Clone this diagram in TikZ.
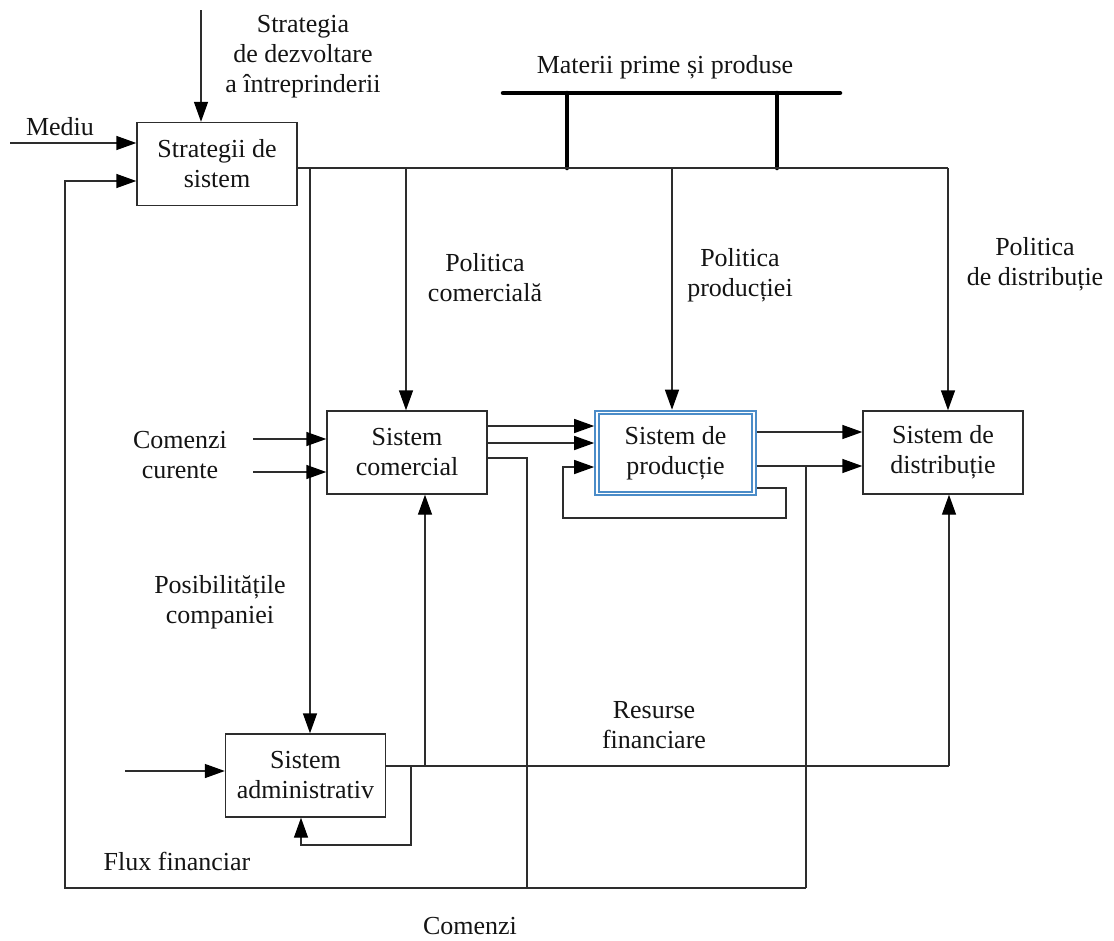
\documentclass[tikz,border=0pt]{standalone}
\usepackage{fontspec}
\setmainfont{Liberation Serif}
\usetikzlibrary{arrows.meta}
\definecolor{linec}{RGB}{45,45,45}
\definecolor{textc}{RGB}{20,20,20}
\definecolor{prodblue}{RGB}{75,140,200}
\begin{document}
\begin{tikzpicture}[x=1pt,y=-1pt,
  every node/.style={font=\fontsize{26}{30}\selectfont, text=textc},
  block/.style={draw=linec, line width=1.4pt, fill=white, align=center,
    minimum width=160pt, minimum height=83pt, inner sep=0pt},
  lbl/.style={align=center, inner sep=0pt},
  wire/.style={draw=linec, line width=1.4pt},
  arr/.style={wire, -{Triangle[length=20pt,width=14pt,fill=black,color=black]}},
  bus/.style={draw=black, line width=4.5pt, line cap=round}]
\useasboundingbox (0,0) rectangle (1114,940);

% blocks
\node[block] (strat) at (217,164) {Strategii de\\sistem};
\node[block] (com) at (407,452.5) {Sistem\\comercial};
\node[block, draw=prodblue, line width=2.2pt, double=white, double distance=1.1pt,
  minimum width=157pt, minimum height=81pt, outer sep=2.8pt] (prod) at (675.5,453) {Sistem de\\producție};
\node[block] (dist) at (943,452.5) {Sistem de\\distribuție};
\node[block] (adm) at (305.5,775.5) {Sistem\\administrativ};

% labels
\node[lbl] (lstrat) at (303,57) {Strategia\\de dezvoltare\\a întreprinderii};
\node[lbl] (lmed) at (60,127) {Mediu};
\node[lbl] (lmat) at (665,67) {Materii prime și produse};
\node[lbl] (lpcom) at (485,278) {Politica\\comercială};
\node[lbl] (lpprod) at (740,275) {Politica\\producției};
\node[lbl] (lpdist) at (1035,264) {Politica\\de distribuție};
\node[lbl] (lcc) at (180,455) {Comenzi\\curente};
\node[lbl] (lpos) at (220,602) {Posibilitățile\\companiei};
\node[lbl] (lres) at (654,725) {Resurse\\financiare};
\node[lbl] (lflux) at (177,861) {Flux financiar};
\node[lbl] (lcom) at (470,926) {Comenzi};

% free ends and junctions
\coordinate (topin) at (201,10);
\coordinate (medin) at (10,143);
\coordinate (busL) at (503,93);
\coordinate (busR) at (840,93);
\coordinate (tapA) at (567,168);
\coordinate (tapB) at (777,168);
\coordinate (jadm) at (310,168);
\coordinate (jcom) at (406,168);
\coordinate (jprod) at (672,168);
\coordinate (jdist) at (948,168);
\coordinate (cc1) at (253,439);
\coordinate (cc2) at (253,472);
\coordinate (admin) at (125,771);
\coordinate (jres) at (425,766);
\coordinate (jloop) at (411,766);
\coordinate (jfin) at (949,766);
\coordinate (bordL) at (65,888);
\coordinate (bordC) at (527,888);
\coordinate (bordR) at (806,888);

% inputs of the strategy block
\draw[arr] (topin) -- (topin |- strat.north);
\draw[arr] (medin) -- (medin -| strat.west);

% raw materials bus
\draw[bus] (busL) -- (busR);
\draw[bus] (busL -| tapA) -- (tapA);
\draw[bus] (busL -| tapB) -- (tapB);

% policy lines from the strategy block
\draw[wire] (strat.east |- jdist) -- (jdist);
\draw[arr] (jdist) -- (dist.north -| jdist);
\draw[arr] (jadm) -- (adm.north -| jadm);
\draw[arr] (jcom) -- (com.north -| jcom);
\draw[arr] (jprod) -- (prod.north -| jprod);

% current orders
\draw[arr] (cc1) -- (com.west |- cc1);
\draw[arr] (cc2) -- (com.west |- cc2);

% commercial -> production
\draw[arr] (com.east |- 0,426) -- (prod.west |- 0,426);
\draw[arr] (com.east |- 0,443) -- (prod.west |- 0,443);

% production feedback
\draw[arr] (prod.east |- 0,488) -- (786,488) -- (786,518) -- (563,518) -- (563,467) -- (prod.west |- 0,467);

% production -> distribution
\draw[arr] (prod.east |- 0,432) -- (dist.west |- 0,432);
\draw[arr] (prod.east |- 0,466) -- (dist.west |- 0,466);

% orders flowing back to the strategy block
\draw[wire] (com.east |- 0,458) -| (bordC);
\draw[wire] (prod.east |- 0,466) -| (bordR);
\draw[arr] (bordR) -- (bordL) |- (strat.west |- 0,181);

% administrative system
\draw[arr] (admin) -- (adm.west |- admin);
\draw[wire] (adm.east |- jfin) -- (jfin);
\draw[arr] (jfin) -- (dist.south -| jfin);
\draw[arr] (jres) -- (com.south -| jres);
\draw[arr] (jloop) -- (411,845) -- (301,845) -- (adm.south -| 301,0);
\end{tikzpicture}
\end{document}
